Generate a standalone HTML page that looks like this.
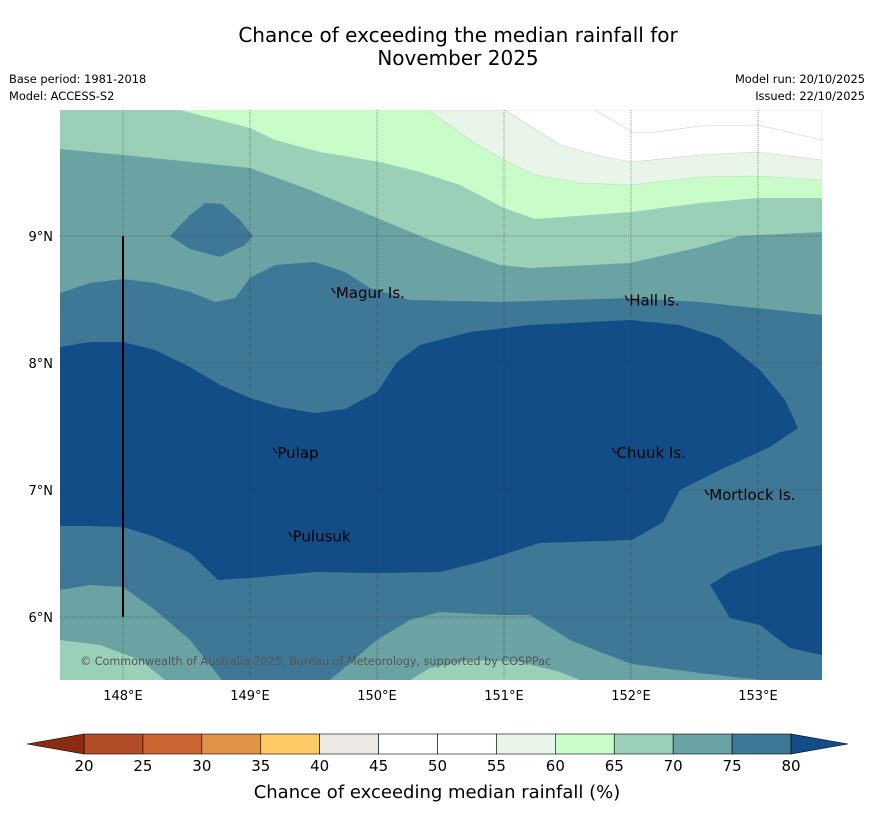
<!DOCTYPE html>
<html><head><meta charset="utf-8"><style>
body{margin:0;background:#fff;font-family:"DejaVu Sans",sans-serif}
</style></head><body>
<svg width="873" height="816" viewBox="0 0 873 816" xmlns="http://www.w3.org/2000/svg" font-family="DejaVu Sans, sans-serif">
<text x="458" y="42" font-size="20" text-anchor="middle">Chance of exceeding the median rainfall for</text>
<text x="458" y="65" font-size="20" text-anchor="middle">November 2025</text>
<text x="9" y="83" font-size="11.4">Base period: 1981-2018</text>
<text x="9" y="100" font-size="11.4">Model: ACCESS-S2</text>
<text x="865" y="83" font-size="11.4" text-anchor="end">Model run: 20/10/2025</text>
<text x="865" y="100" font-size="11.4" text-anchor="end">Issued: 22/10/2025</text>
<defs><clipPath id="mc"><rect x="60" y="110" width="762" height="570"/></clipPath></defs>
<g clip-path="url(#mc)">
<rect x="60" y="110" width="762" height="570" fill="#3f7896"/>
<path fill="#6ba3a4" d="M60,110 L60,293 L90,283 L123,279 L155,283 L190,292 L215,302 L235,298 L250,278 L275,265 L315,262 L345,272 L370,288 L410,300 L500,302 L630,298 L700,302 L822,315 L822,110Z"/>
<path fill="#3f7896" d="M170,236 L190,215 L205,203 L222,204 L240,220 L253,236 L245,245 L220,257 L190,249Z"/>
<path fill="#9bd0b8" d="M60,110 L60,149 L123,155 L250,168 L310,190 L370,215 L430,240 L500,265 L530,268 L630,263 L700,247 L740,236 L822,232 L822,110Z"/>
<path fill="#c8fcc8" d="M180,110 L250,128 L275,140 L320,152 L380,162 L420,172 L460,185 L504,208 L535,219 L632,212 L700,203 L758,198 L822,198 L822,110Z"/>
<path fill="#e8f5e8" stroke="#c0dcc0" stroke-width="0.6" d="M428,110 L473,142 L504,160 L535,175 L580,183 L632,185 L700,177 L758,176 L822,180 L822,110Z"/>
<path fill="#ffffff" stroke="#ccc" stroke-width="0.6" d="M505,110 L560,145 L600,156 L632,162 L700,155 L758,152 L822,160 L822,110Z"/>
<path fill="none" stroke="#ccc" stroke-width="0.6" d="M595,110 L632,132 L650,133 L700,126 L758,125 L822,140"/>
<path fill="#134d87" d="M60,347 L90,342 L123,342 L155,350 L190,367 L220,385 L250,398 L280,407 L315,413 L345,409 L377,392 L397,362 L420,345 L470,332 L530,325 L630,320 L680,325 L720,338 L760,370 L785,400 L798,428 L770,447 L720,470 L680,490 L663,522 L632,540 L540,543 L480,562 L440,572 L377,573 L315,572 L250,578 L218,580 L190,553 L155,537 L123,527 L90,526 L60,526Z"/>
<path fill="#134d87" d="M710,585 L730,572 L780,552 L822,545 L822,655 L790,648 L760,625 L730,618Z"/>
<path fill="#6ba3a4" d="M60,590 L90,585 L123,587 L155,610 L190,640 L222,680 L60,680Z"/>
<path fill="#6ba3a4" d="M330,680 L377,640 L410,620 L440,612 L500,615 L530,615 L570,640 L600,652 L632,664 L700,673 L760,680Z"/>
<path fill="#9bd0b8" d="M60,640 L100,645 L140,660 L165,680 L60,680Z"/>
<path fill="#9bd0b8" d="M410,680 L430,668 L470,660 L520,662 L560,672 L580,680Z"/>
<g id="grid"></g>
<line x1="123" y1="236" x2="123" y2="617" stroke="#000" stroke-width="2"/>
<g id="places"></g>
<text x="80" y="665" font-size="11.2" fill="#555">© Commonwealth of Australia 2025, Bureau of Meteorology, supported by COSPPac</text>
</g>
<g id="axes"></g>
<g id="cbar"></g>
<text x="437" y="798" font-size="18" text-anchor="middle">Chance of exceeding median rainfall (%)</text>
<script>
const lonTicks=[148,149,150,151,152,153];
const latTicks=[9,8,7,6];
const places=["Magur Is.","Hall Is.","Pulap","Chuuk Is.","Mortlock Is.","Pulusuk"];
const placeLon=[149.66,151.97,149.2,151.87,152.6,149.32];
const placeLat=[8.56,8.5,7.3,7.3,6.97,6.64];
const cbTicks=[20,25,30,35,40,45,50,55,60,65,70,75,80];
const cbColors=["#b34d28","#cd6633","#e0944a","#fdca66","#ece8e4","#ffffff","#ffffff","#e8f5e8","#c8fcc8","#9bd0b8","#6ba3a4","#3f7896"];
const NS="http://www.w3.org/2000/svg";
const X=lon=>123+(lon-148)*127, Y=lat=>236+(9-lat)*127;
const cx=v=>84+(v-20)*(707/60);
function mk(t,a,p){const e=document.createElementNS(NS,t);for(const k in a)e.setAttribute(k,a[k]);p.appendChild(e);return e;}
const grid=document.getElementById('grid'),axes=document.getElementById('axes'),pl=document.getElementById('places'),cb=document.getElementById('cbar');
lonTicks.forEach(l=>{const e=mk('line',{x1:X(l),x2:X(l),y1:110,y2:680,stroke:'#333','stroke-width':0.8,'stroke-opacity':0.6,'stroke-dasharray':'1,1'},grid);


const t=mk('text',{x:X(l),y:700,'font-size':13,'text-anchor':'middle'},axes);t.textContent=l+'°E';

});
latTicks.forEach(l=>{const e=mk('line',{x1:60,x2:822,y1:Y(l),y2:Y(l),stroke:'#333','stroke-width':0.8,'stroke-opacity':0.6,'stroke-dasharray':'1,1'},grid);


const t=mk('text',{x:53,y:Y(l)+5,'font-size':13,'text-anchor':'end'},axes);t.textContent=l+'°N';

});
places.forEach((p,i)=>{const x=X(placeLon[i]),y=Y(placeLat[i]);
const d=mk('path',{d:`M${x-2},${y-4} l2,4 l2,1`,stroke:'#000',fill:'none','stroke-width':1.2},pl);


const t=mk('text',{x:x+2,y:y+6,'font-size':15},pl);t.textContent=p;

});
cbColors.forEach((c,i)=>{const r=mk('rect',{x:cx(cbTicks[i]),y:734,width:cx(cbTicks[i+1])-cx(cbTicks[i]),height:20,fill:c,stroke:'#000','stroke-width':0.6},cb);

});
const lt=mk('polygon',{points:`27,744 84,734 84,754`,fill:'#8c2a12',stroke:'#000','stroke-width':0.6},cb);


const rt=mk('polygon',{points:`848,744 791,734 791,754`,fill:'#134d87',stroke:'#000','stroke-width':0.6},cb);


cbTicks.forEach(v=>{const t=mk('text',{x:cx(v),y:771,'font-size':15,'text-anchor':'middle'},cb);t.textContent=v;

});
</script>
</svg>
</body></html>
